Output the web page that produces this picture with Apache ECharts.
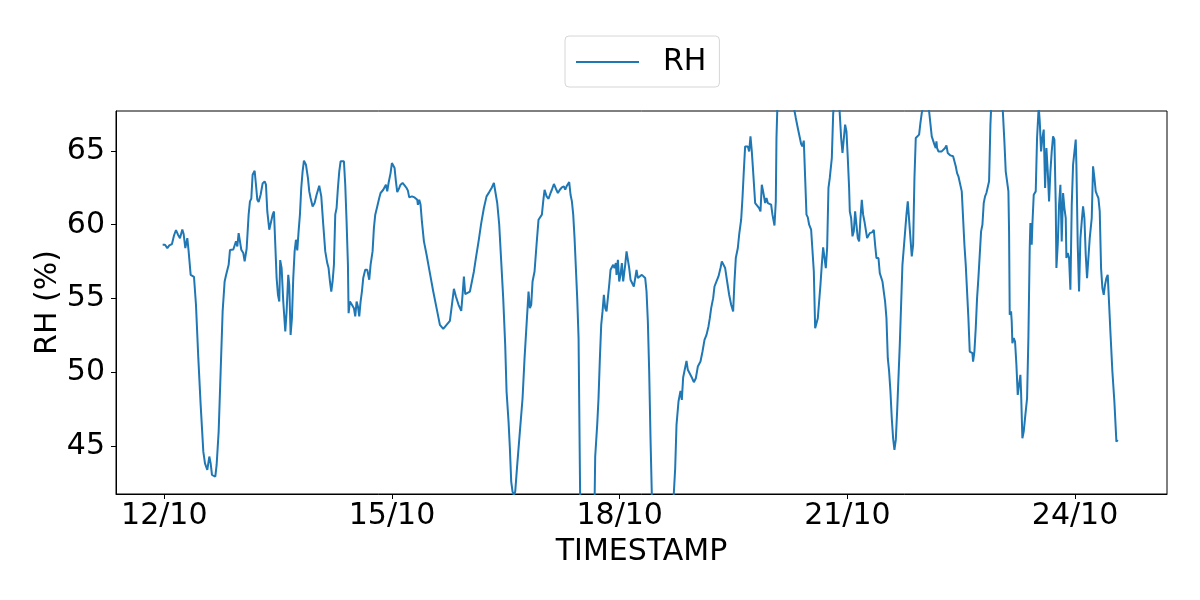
<!DOCTYPE html>
<html><head><meta charset="utf-8">
<script src="https://cdn.jsdelivr.net/npm/echarts@6/dist/echarts.min.js"></script>
<style>html,body{margin:0;padding:0;background:#fff}#c{width:1200px;height:600px}</style>
</head><body><div id="c"></div>
<script>
// hours since 12/10 00:00
const hours = [
-0.52,0.22,0.96,1.59,2.01,2.43,3.07,3.70,4.33,4.96,5.70,6.12,6.65,7.28,7.70,8.34,8.97,9.39,10.02,10.76,
11.50,12.34,12.87,13.18,13.60,14.24,14.66,15.08,15.71,16.13,16.55,17.19,17.82,18.45,19.08,19.50,19.93,20.35,20.77,21.40,
21.82,22.24,22.67,23.09,23.51,23.93,24.35,24.98,25.41,26.04,26.67,27.09,27.51,27.93,28.57,28.99,29.41,29.83,30.46,31.10,
31.73,32.15,32.57,33.20,33.62,34.26,34.68,35.10,35.52,35.94,36.36,
36.65,37.10,37.62,38.26,38.68,39.20,39.52,39.94,40.36,40.78,41.21,41.63,42.05,42.47,42.89,43.31,43.74,44.16,44.79,45.42,
45.84,46.26,46.90,47.53,48.16,49.00,49.64,50.27,50.90,51.53,51.95,52.38,52.80,53.22,53.64,54.06,54.48,54.90,55.33,55.75,
56.80,57.22,57.64,58.07,58.28,58.70,59.33,59.96,60.38,60.81,61.23,61.65,62.07,62.49,62.91,63.54,64.18,64.81,65.23,65.86,
66.28,66.71,67.34,67.97,68.39,68.81,69.24,69.66,70.08,70.50,70.92,71.55,71.97,72.39,72.82,73.24,73.66,74.29,74.71,75.35,
75.98,76.61,77.03,77.45,
78.30,78.72,79.14,79.57,79.99,80.20,80.62,81.04,81.46,82.10,82.94,83.99,85.05,86.10,87.15,88.21,89.26,90.31,90.95,91.58,
92.21,93.05,93.90,94.32,94.74,95.16,95.79,96.64,97.27,97.90,98.53,99.38,100.22,101.06,101.90,102.75,103.59,104.22,104.64,105.28,
105.91,106.54,107.17,107.80,108.23,108.86,109.28,109.70,110.12,110.54,110.97,111.60,112.44,113.29,113.92,114.55,115.18,115.60,116.03,116.45,
117.08,117.71,118.34,
118.77,119.40,119.82,120.25,120.88,121.51,122.14,122.56,123.20,123.83,124.46,125.09,125.72,126.36,126.78,127.20,127.62,128.04,128.46,128.89,
129.31,129.73,130.15,130.57,131.00,131.60,133.80,135.80,136.26,136.68,136.89,137.31,137.74,138.16,138.58,139.00,139.42,139.84,140.26,140.69,
141.11,141.53,141.95,142.37,142.79,143.00,143.43,143.85,144.27,144.69,145.11,145.53,145.74,146.17,146.59,147.01,147.43,148.06,148.48,148.91,
149.33,149.75,150.38,151.01,151.64,152.07,152.49,152.91,153.33,153.75,154.60,157.00,160.70,
161.12,161.55,161.97,162.60,163.23,163.65,164.07,164.50,165.13,165.55,166.18,166.81,167.45,168.08,168.71,169.55,170.19,170.82,171.45,172.08,
172.50,172.93,173.56,173.98,174.61,175.24,175.88,176.30,176.93,177.35,177.98,178.62,179.25,179.88,180.30,180.72,181.36,181.78,182.41,182.83,
183.25,183.67,184.10,184.52,184.94,185.36,185.78,186.20,186.84,187.47,188.10,188.52,188.94,189.36,190.00,190.42,190.84,191.47,191.89,192.31,
192.95,193.37,193.58,194.20,196.50,198.50,199.27,199.69,200.32,200.74,
201.38,201.80,202.22,202.65,203.07,203.49,203.91,204.54,204.96,205.39,205.81,206.23,206.65,207.07,207.49,207.91,208.34,208.76,209.18,209.60,
210.02,210.44,211.08,211.50,212.10,213.20,214.03,214.45,214.87,215.29,215.71,216.13,216.55,216.77,217.19,217.61,218.03,218.45,218.87,219.29,
219.72,220.14,220.56,220.98,221.40,221.82,222.24,222.67,223.09,223.51,223.93,224.35,224.77,225.19,225.62,225.83,226.25,226.67,227.09,227.51,
227.93,228.36,228.78,229.20,229.62,230.04,230.46,230.88,231.31,231.73,232.15,232.57,232.99,233.41,233.84,234.26,234.68,235.10,235.52,235.94,
236.36,236.79,237.21,237.63,238.05,238.68,239.10,239.53,240.40,241.40,
242.68,243.10,243.53,243.95,244.16,244.37,244.79,245.21,245.84,246.26,246.90,247.32,247.74,248.16,248.58,249.00,249.43,249.85,250.27,250.69,
251.11,251.74,252.17,252.59,253.01,253.43,253.85,254.27,254.69,255.12,255.54,255.75,256.17,256.59,257.01,257.43,257.86,258.28,258.70,259.12,
259.54,259.96,260.38,260.81,261.23,262.20,263.50,264.60,265.65,266.07,266.50,266.92,267.13,267.34,267.55,267.76,267.97,268.18,268.60,269.02,
269.45,269.87,270.29,270.71,270.92,271.34,271.76,272.18,272.82,273.24,273.66,273.87,274.08,274.29,274.50,274.93,275.56,275.98,276.50,
276.83,277.25,277.67,278.09,278.52,278.94,279.36,279.78,280.20,280.62,281.04,281.47,281.89,282.10,282.52,282.94,283.36,283.78,284.21,284.63,
285.05,285.26,285.68,286.10,286.52,286.95,287.37,287.79,288.21,288.42,288.84,289.26,289.69,290.11,290.53,290.95,291.37,291.79,292.21,292.64,
293.27,293.69,294.11,294.53,294.95,295.38,295.80,296.22,296.64,297.06,297.48,297.90,298.33,298.75,299.17,299.80,300.43,301.07,301.49
];
const rh = [
58.64,58.64,58.41,58.60,58.73,58.69,59.27,59.64,59.32,59.09,59.68,59.37,58.41,59.09,58.19,56.60,56.47,56.47,54.57,50.95,
47.78,44.61,43.82,43.93,43.37,44.28,43.82,43.03,42.92,42.92,43.71,45.97,50.05,54.12,56.15,56.56,56.56,57.28,58.28,58.37,
58.32,58.28,58.87,58.53,59.43,58.87,58.30,58.08,57.51,58.37,60.68,61.58,61.76,63.39,63.66,62.71,61.69,61.54,62.03,62.80,
62.94,62.71,60.90,59.66,59.77,60.68,60.90,58.64,56.38,55.25,54.79,
57.60,57.06,54.79,52.76,54.12,56.60,55.93,52.53,53.66,56.38,58.19,58.98,58.26,59.55,60.68,62.49,63.62,64.34,64.07,63.17,
62.26,61.81,61.24,61.47,62.03,62.64,61.92,60.00,58.19,57.40,57.06,56.15,55.47,56.15,57.28,60.68,61.13,62.49,63.62,64.30,
64.30,62.71,60.23,57.28,54.00,54.79,54.57,54.34,53.78,54.79,54.46,53.78,54.79,55.47,56.38,56.94,56.94,56.27,57.28,58.19,
59.77,60.68,61.24,61.81,62.15,62.26,62.37,62.26,62.71,62.26,62.83,63.50,64.18,64.18,63.84,62.94,62.21,62.49,62.71,62.83,
62.67,62.49,62.31,61.85,
61.92,62.03,61.85,61.92,61.69,61.35,61.69,61.35,60.22,58.87,57.96,56.72,55.47,54.34,53.21,52.94,53.21,53.48,54.57,55.65,
55.13,54.57,54.16,55.25,56.49,55.29,55.34,55.47,55.59,56.83,57.74,58.87,60.11,61.13,61.92,62.21,62.53,62.83,62.71,61.47,
60.00,57.51,55.02,51.85,48.69,46.65,44.84,42.58,41.90,41.67,41.90,43.71,45.97,48.23,50.95,53.21,55.47,54.34,54.57,56.15,
56.83,58.64,60.34,
60.45,60.68,61.58,62.37,61.92,61.76,62.15,62.37,62.76,62.44,62.15,62.37,62.53,62.60,62.37,62.60,62.71,62.89,62.03,61.58,
60.68,59.09,57.06,55.02,52.31,39.50,35.50,37.00,44.28,44.28,46.43,48.23,50.95,53.21,54.12,55.25,54.34,54.12,55.02,55.93,
56.94,57.06,57.28,57.06,57.40,56.60,57.62,56.15,56.60,57.40,56.15,56.15,57.28,58.19,58.19,57.06,56.27,56.27,55.81,56.38,
56.94,56.38,56.38,56.60,56.60,56.38,55.47,53.44,50.05,45.52,37.70,35.00,40.00,
41.79,43.48,46.43,48.01,48.73,48.12,49.64,49.71,50.77,50.16,50.27,49.64,49.32,49.59,50.38,50.72,51.40,52.19,52.53,53.10,
53.66,54.34,55.02,55.81,56.15,56.49,57.06,57.51,57.51,57.06,56.15,55.25,54.57,54.12,56.15,57.74,58.42,59.32,60.34,61.81,
63.62,65.31,65.38,65.31,64.97,65.99,64.97,63.62,61.47,61.36,61.13,60.90,62.71,62.26,61.47,61.81,61.47,61.40,61.36,60.68,
59.95,61.58,65.88,70.50,71.00,69.00,67.73,67.24,66.56,66.56,
65.47,65.31,65.70,63.16,60.68,60.50,60.00,59.66,59.55,56.83,52.98,52.87,53.66,54.79,55.93,57.28,58.46,58.37,57.06,58.42,
62.49,63.17,64.52,67.46,69.50,69.00,65.88,64.86,64.97,66.78,66.33,64.52,62.49,60.90,60.45,59.21,59.55,60.90,59.99,59.09,
58.87,60.45,61.69,60.68,60.22,60.11,59.09,59.21,59.43,59.55,59.50,59.66,58.64,57.74,57.62,57.74,56.72,56.83,56.15,55.47,
54.79,53.66,50.95,50.05,48.69,46.88,45.52,44.73,45.41,47.33,49.59,51.85,54.57,57.28,58.42,59.55,60.68,61.58,61.58,59.09,
57.85,58.64,63.17,65.88,65.99,66.11,66.90,67.58,68.50,68.60,
65.99,65.88,65.43,65.20,65.65,65.20,64.97,64.97,64.97,65.02,65.20,65.38,64.86,64.75,64.70,64.64,64.64,64.52,63.96,63.50,
63.28,63.17,62.26,60.45,58.64,57.28,55.47,53.66,51.40,51.52,51.29,50.72,51.40,52.98,55.02,56.38,56.49,59.55,60.00,61.47,
61.92,62.15,62.15,62.94,66.78,71.50,72.50,70.00,65.65,63.62,62.94,62.26,59.55,53.89,53.78,54.12,53.44,51.97,52.31,52.08,
50.50,48.46,48.46,49.82,48.69,45.52,45.97,46.88,48.23,52.31,58.42,60.11,59.09,58.64,60.00,62.03,62.26,65.88,68.00,
67.01,64.97,65.88,66.45,62.49,65.20,63.62,61.58,63.62,64.97,65.99,65.77,61.36,57.06,58.64,61.36,62.71,58.87,62.15,61.13,
60.45,57.74,58.08,57.74,55.59,61.36,64.07,63.96,65.77,64.07,58.64,55.47,59.09,60.22,61.24,60.45,57.96,56.38,57.74,59.09,
60.45,63.96,63.17,62.26,62.03,61.81,60.90,57.06,55.70,55.25,55.93,56.38,56.60,56.60,52.76,50.05,48.01,45.29,45.41
];
const xTickHours = [0, 72, 144, 216, 288];
const xTickLabels = ['12/10', '15/10', '18/10', '21/10', '24/10'];
const yTicks = [45, 50, 55, 60, 65];

const data = hours.map((h, i) => [h, rh[i]]);
const FONT = 'DejaVu Sans';
const chart = echarts.init(document.getElementById('c'), null, {renderer: 'canvas'});
chart.setOption({
  animation: false,
  backgroundColor: '#ffffff',
  textStyle: {fontFamily: FONT},
  legend: {
    data: ['RH'],
    left: 565, top: 36,
    padding: [11, 13, 10, 11],
    icon: 'rect',
    itemWidth: 63, itemHeight: 2,
    itemStyle: {color: '#1f77b4'},
    borderColor: '#d6d6d6', borderWidth: 1, borderRadius: 4,
    textStyle: {fontSize: 30, color: '#000', fontFamily: FONT, padding: [0, 0, 0, 19]}
  },
  grid: {left: 116, right: 33, top: 111, bottom: 106, show: true, borderColor: '#000', borderWidth: 1, backgroundColor: 'transparent'},
  xAxis: {
    type: 'value', min: -15.27, max: 317.07,
    name: 'TIMESTAMP', nameLocation: 'middle', nameGap: 43, nameMoveOverlap: false,
    nameTextStyle: {fontSize: 30, color: '#000', fontFamily: FONT},
    axisLine: {show: true, onZero: false, lineStyle: {color: '#000', width: 1}},
    axisTick: {show: true, customValues: xTickHours, length: 5, lineStyle: {color: '#000', width: 1}},
    axisLabel: {customValues: xTickHours, formatter: v => xTickLabels[xTickHours.indexOf(v)], fontSize: 30, color: '#000', margin: 7, fontFamily: FONT},
    splitLine: {show: false}
  },
  yAxis: {
    type: 'value', min: 41.74, max: 67.71,
    name: 'RH (%)', nameLocation: 'middle', nameGap: 53, nameMoveOverlap: false,
    nameTextStyle: {fontSize: 30, color: '#000', fontFamily: FONT},
    axisLine: {show: true, onZero: false, lineStyle: {color: '#000', width: 1}},
    axisTick: {show: true, customValues: yTicks, length: 5, lineStyle: {color: '#000', width: 1}},
    axisLabel: {customValues: yTicks, fontSize: 30, color: '#000', margin: 11, fontFamily: FONT},
    splitLine: {show: false}
  },
  series: [{
    name: 'RH', type: 'line', data: data,
    symbol: 'none', showSymbol: false, clip: true,
    lineStyle: {color: '#1f77b4', width: 2},
    itemStyle: {color: '#1f77b4'}
  }]
});
</script></body></html>
